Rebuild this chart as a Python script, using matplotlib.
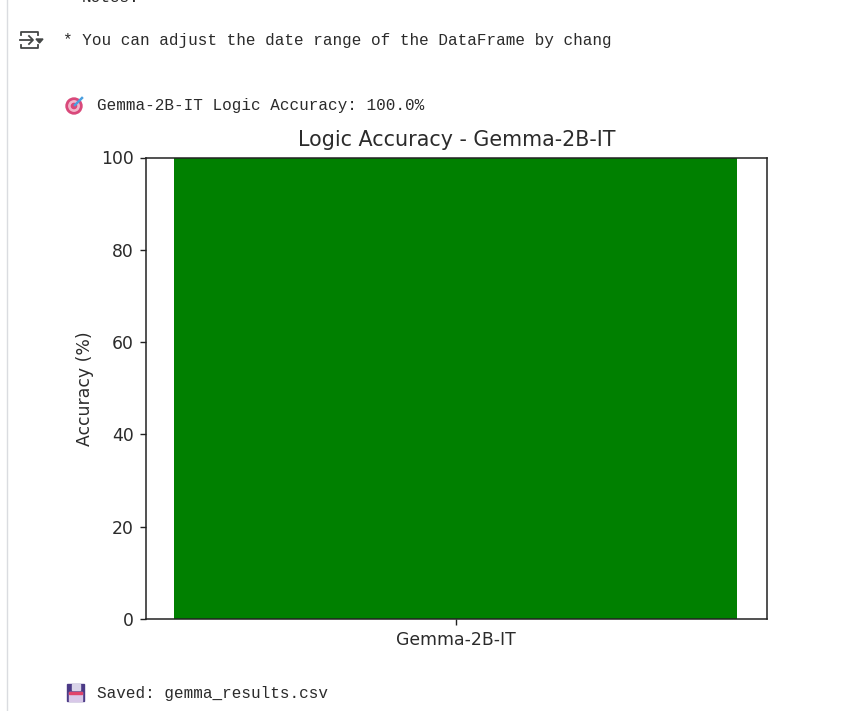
import matplotlib
matplotlib.use("Agg")
import matplotlib.pyplot as plt
from matplotlib.patches import Circle, Rectangle

models = ["Gemma-2B-IT"]
accuracy = [100]
yticks = [0, 20, 40, 60, 80, 100]

W, H = 855, 711
mono = "Liberation Mono"
ink = "#2b2b2b"

fig = plt.figure(figsize=(W / 100, H / 100), dpi=100)

# notebook output text, placed in pixels
bg = fig.add_axes([0, 0, 1, 1])
bg.set_xlim(0, W)
bg.set_ylim(H, 0)
bg.axis("off")
bg.plot([6.5, 6.5], [0, H], color="#dadce0", lw=1)

bg.text(82, 5, "Notes:", family=mono, fontsize=11.55, va="bottom", color=ink)
bg.text(63, 40, "* You can adjust the date range of the DataFrame by chang", family=mono, fontsize=11.55, va="center", color=ink)
bg.text(97, 105.4, "Gemma-2B-IT Logic Accuracy: 100.0%", family=mono, fontsize=11.55, va="center", color=ink)
bg.text(97, 693.4, "Saved: gemma_results.csv", family=mono, fontsize=11.55, va="center", color=ink)

# collapse icon
icon = "#444746"
bg.plot([21, 21, 38, 38], [35, 32, 32, 35], color=icon, lw=1.3)
bg.plot([21, 21, 38, 38], [45, 48, 48, 45], color=icon, lw=1.3)
bg.plot([20, 32], [40, 40], color=icon, lw=1.3)
bg.plot([29, 33, 29], [36, 40, 44], color=icon, lw=1.3)
bg.fill([36, 43, 39.5], [39, 39, 43], color=icon)

# target emoji
bg.add_patch(Circle((74, 106), 8, color="#d9487a"))
bg.add_patch(Circle((74, 106), 5.2, color="#f3b6cb"))
bg.add_patch(Circle((74, 106), 2.6, color="#d9487a"))
bg.plot([75, 82], [105, 98], color="#4a9fe0", lw=1.8)

# floppy emoji
bg.add_patch(Rectangle((67, 684), 17, 17, color="#4b3a86"))
bg.add_patch(Rectangle((72, 684), 8, 6, color="#d9d4e8"))
bg.add_patch(Rectangle((69, 692), 13, 9, color="#d8c8e8"))
bg.add_patch(Rectangle((69, 692), 13, 1.5, color="#e0436a"))

# the chart itself
left, right, top, bottom = 146, 767, 157.5, 619
ax = fig.add_axes([left / W, 1 - bottom / H, (right - left) / W, (bottom - top) / H])
ax.bar(models, accuracy, color="green")
ax.set_xlim(-0.44, 0.442)
ax.set_ylim(0, 100)
ax.set_yticks(yticks)
ax.set_ylabel("Accuracy (%)", fontsize=12.4, color=ink, labelpad=5.2)
ax.set_title("Logic Accuracy - " + models[0], fontsize=14.9, pad=8.5, color=ink)
ax.tick_params(labelsize=12.4, labelcolor=ink, length=4.3, width=1, pad=4.3, color="#222222")
for s in ax.spines.values():
    s.set_linewidth(1.1)
    s.set_color("#222222")

fig.savefig("out.png", dpi=100)
